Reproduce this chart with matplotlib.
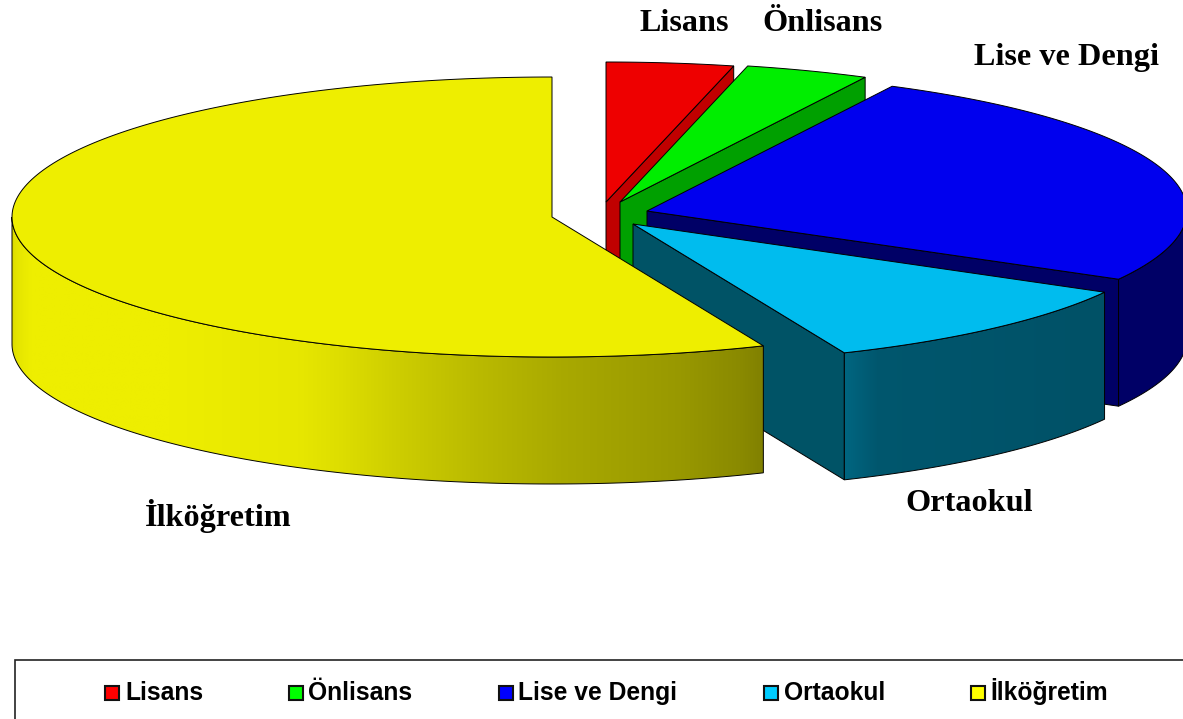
import matplotlib
matplotlib.use('Agg')
import matplotlib.pyplot as plt
from matplotlib.patches import Polygon, Rectangle
import numpy as np

# data (percent)
labels = ['Lisans', 'Önlisans', 'Lise ve Dengi', 'Ortaokul', 'İlköğretim']
values = [3.8, 3.7, 25.6, 10.5, 56.4]

# colours
top_colors = ['#EE0000', '#00EE00', '#0000EE', '#00BCEE', '#EEEE00']
legend_colors = ['#FF0000', '#00FF00', '#0000FF', '#00CCFF', '#FFFF00']
face_colors = ['#C00000', '#00A000', '#000066', '#005366', '#808000']

# layout, in pixels of the 1183x719 picture
apex_x = [606, 620, 647, 633, 552]
apex_y = [202, 202, 211, 224, 217]
RX, RY, DEPTH = 540, 140, 127
label_x = [640, 762, 974, 905, 145]
label_y = [31, 31, 65, 511, 526]
legend_box_x = [105, 289, 499, 764, 971]
legend_text_x = [125, 308, 518, 784, 990]

# wall brightness against clockwise angle from the top
shade_angle = [90, 119, 153, 156.9, 159.6, 166.3, 179, 187.7, 196.3, 203, 207.8, 225, 255, 270]
shade_value = [.43, .43, .46, .54, .58, .64, .71, .78, .86, .93, .97, 1.0, 1.0, .92]


def ellipse_point(cx, cy, angle):
    a = np.radians(angle)
    return cx + RX * np.sin(a), cy - RY * np.cos(a)


def draw_slice(ax, cx, cy, a0, a1, top_color, face_color, z):
    # radial face on the clockwise end
    ex, ey = ellipse_point(cx, cy, a1)
    if a1 < 180:
        ax.add_patch(Polygon([(cx, cy), (ex, ey), (ex, ey + DEPTH), (cx, cy + DEPTH)],
                             fc=face_color, ec='black', lw=0.7, zorder=z))

    # outer wall, only the part in front; gradient image clipped to the wall shape
    w0, w1 = max(a0, 90), min(a1, 270)
    if w1 > w0:
        arc = np.linspace(w0, w1, 200)
        xs, ys = ellipse_point(cx, cy, arc)
        wall = np.column_stack([np.r_[xs, xs[::-1]], np.r_[ys, ys[::-1] + DEPTH]])
        base = np.array(matplotlib.colors.to_rgb(top_color))
        x_lo, x_hi = xs.min(), xs.max()
        cols = np.linspace(x_lo, x_hi, 400)
        ang = 180 - np.degrees(np.arcsin(np.clip((cols - cx) / RX, -1, 1)))
        grad = base[None, None, :] * np.interp(ang, shade_angle, shade_value)[None, :, None]
        im = ax.imshow(grad, extent=[x_lo, x_hi, ys.max() + DEPTH, ys.min()], aspect='auto',
                       interpolation='bilinear', zorder=z + 0.1)
        patch = Polygon(wall, fc='none', ec='black', lw=0.7, zorder=z + 0.2)
        ax.add_patch(patch)
        im.set_clip_path(patch)

    # top
    arc = np.linspace(a0, a1, 200)
    xs, ys = ellipse_point(cx, cy, arc)
    pts = np.column_stack([np.r_[cx, xs], np.r_[cy, ys]])
    ax.add_patch(Polygon(pts, fc=top_color, ec='black', lw=0.7, zorder=z + 0.3))


fig = plt.figure(figsize=(11.83, 7.19), dpi=100)
ax = fig.add_axes([0, 0, 1, 1])
ax.axis('off')

ends = np.cumsum(values) / np.sum(values) * 360
starts = np.r_[0, ends[:-1]]
for i in range(len(values)):
    draw_slice(ax, apex_x[i], apex_y[i], starts[i], ends[i], top_colors[i], face_colors[i], i + 1)

ax.set_xlim(0, 1183)
ax.set_ylim(719, 0)

for i, label in enumerate(labels):
    ax.text(label_x[i], label_y[i], label, family='Liberation Serif', fontweight='bold',
            fontsize=23.2, va='baseline', ha='left', color='black', zorder=10)

# legend
ax.add_patch(Rectangle((15, 660), 1300, 100, fc='white', ec='#222222', lw=1.2, zorder=10))
for i, label in enumerate(labels):
    ax.add_patch(Rectangle((legend_box_x[i] + 0.5, 685.5), 14, 14, fc=legend_colors[i], ec='#111111',
                           lw=1.5, zorder=11))
    ax.text(legend_text_x[i], 700, label, family='Liberation Sans', fontweight='bold',
            fontsize=17.7, va='baseline', ha='left', color='black', zorder=11)

fig.savefig('out.png', dpi=100)
